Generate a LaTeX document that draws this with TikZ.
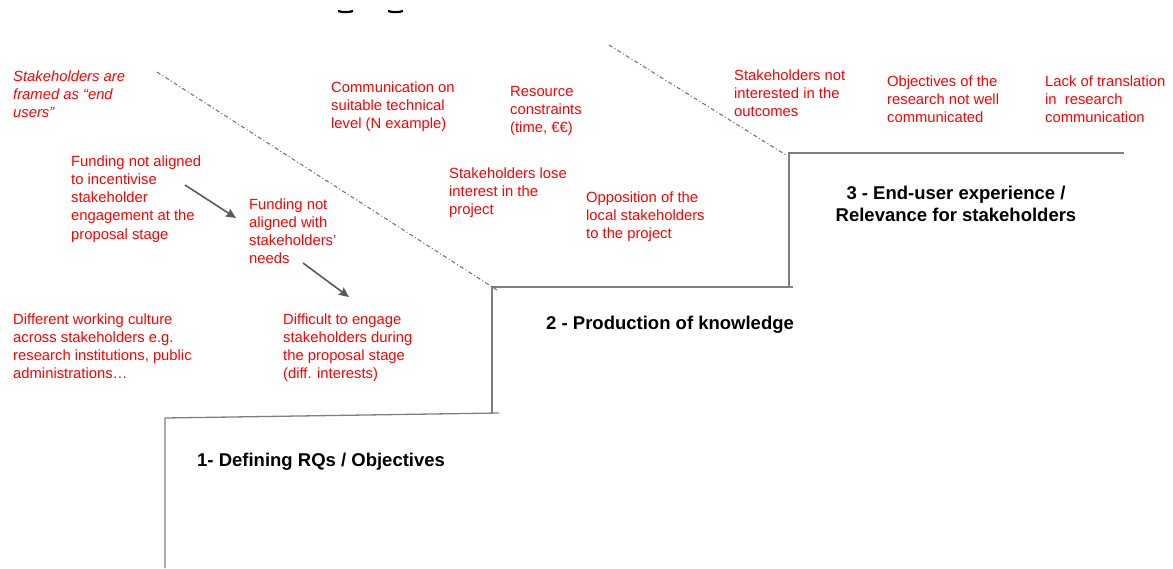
\documentclass[tikz,border=0pt]{standalone}
\usepackage{fontspec}
\setmainfont{Liberation Sans}
\usetikzlibrary{arrows.meta}
\definecolor{txtred}{HTML}{FF0000}
\definecolor{stepgray}{HTML}{7F7F7F}
\definecolor{arrowgray}{HTML}{595959}
\begin{document}
\begin{tikzpicture}[x=1pt,y=-1pt,
 issue/.style={anchor=base west, inner sep=0pt, align=left, text=txtred, font=\fontsize{14.8}{18.3}\selectfont},
 stage/.style={inner sep=0pt, align=center, font=\fontsize{18.5}{22}\selectfont\bfseries},
 stepline/.style={draw=stepgray, line width=1.3pt},
 guide/.style={draw=gray!85!black, line width=1pt, dash pattern=on 4pt off 2.5pt on 1pt off 2.5pt},
 flow/.style={draw=arrowgray, line width=1.6pt, -{Stealth[length=10pt,width=9pt,inset=1.5pt]}}]
\useasboundingbox (0,0) rectangle (1173,568);
% partial glyphs at top edge
\draw[line width=2.2pt] (338,11) .. controls (342,12.5) and (349,12.5) .. (353,11);
\draw[line width=2.2pt] (388,11) .. controls (392,12.5) and (399,12.5) .. (403,11);
% stairs
\coordinate (s1b) at (165,568);
\coordinate (s1t) at (165,418);
\coordinate (s1r) at (499,413);
\coordinate (s2b) at (492,413);
\coordinate (s2t) at (492,287);
\coordinate (s2r) at (793,287);
\coordinate (s3b) at (789,286);
\coordinate (s3t) at (789,153);
\coordinate (s3r) at (1124,153);
\draw[stepline] (s1b) -- (s1t) -- (s1r);
\draw[stepline] (s2b) -- (s2t) -- (s2r);
\draw[stepline] (s3b) -- (s3t) -- (s3r);
% guides
\coordinate (g1a) at (157,72);
\coordinate (g1b) at (497,290);
\coordinate (g2a) at (609,45);
\coordinate (g2b) at (786,155);
\draw[guide] (g1a) -- (g1b);
\draw[guide] (g2a) -- (g2b);
% issue texts (anchor = baseline of last line)
\node[issue, font=\fontsize{14.8}{18.3}\selectfont\itshape] (framed) at (13,117.6) {Stakeholders are\\framed as “end\\users”};
\node[issue] (comm) at (331,128.6) {Communication on\\suitable technical\\level (N example)};
\node[issue] (res) at (510,132.6) {Resource\\constraints\\(time, €€)};
\node[issue] (notint) at (734,116.6) {Stakeholders not\\interested in the\\outcomes};
\node[issue] (obj) at (887,122.6) {Objectives of the\\research not well\\communicated};
\node[issue] (lack) at (1045,122.6) {Lack of translation\\in\ \ research\\communication};
\node[issue] (fund1) at (71,239.2) {Funding not aligned\\to incentivise\\stakeholder\\engagement at the\\proposal stage};
\node[issue] (fund2) at (249,263.9) {Funding not\\aligned with\\stakeholders’\\needs};
\node[issue] (lose) at (449,214.6) {Stakeholders lose\\interest in the\\project};
\node[issue] (opp) at (586,238.6) {Opposition of the\\local stakeholders\\to the project};
\node[issue] (cult) at (13,378.9) {Different working culture\\across stakeholders e.g.\\research institutions, public\\administrations…};
\node[issue] (diff) at (283,378.9) {Difficult to engage\\stakeholders during\\the proposal stage\\(diff. interests)};
% arrows
\coordinate (a1s) at (185,185);
\coordinate (a1e) at (236,218);
\coordinate (a2s) at (303,263);
\coordinate (a2e) at (349,297);
\draw[flow] (a1s) -- (a1e);
\draw[flow] (a2s) -- (a2e);
% stage labels
\node[stage, anchor=base] (st3) at (956,221) {3 - End-user experience /\\Relevance for stakeholders};
\node[stage, anchor=base west] (st2) at (546,329) {2 - Production of knowledge};
\node[stage, anchor=base west] (st1) at (197,466) {1- Defining RQs / Objectives};
\end{tikzpicture}
\end{document}
